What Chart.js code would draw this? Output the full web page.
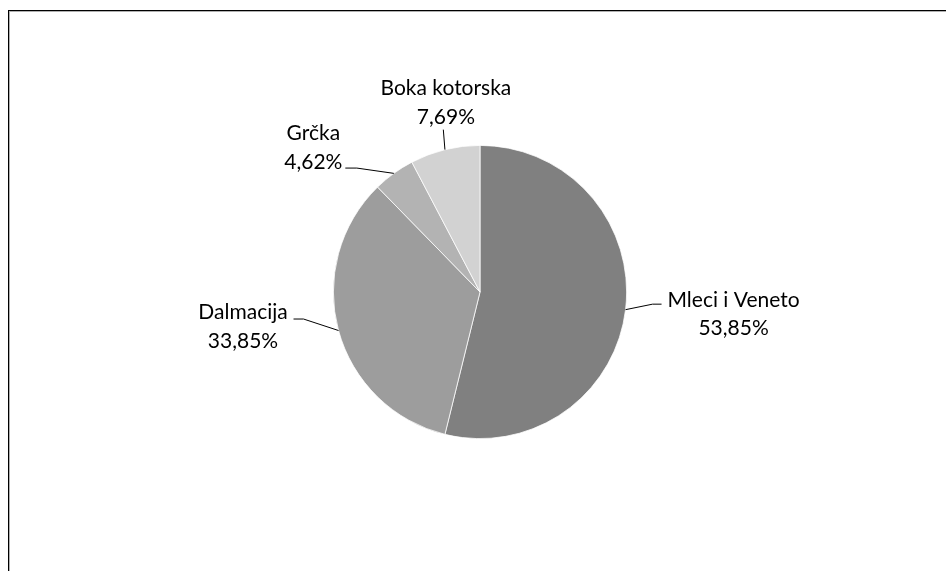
<!DOCTYPE html>
<html>
<head>
<meta charset="utf-8">
<script src="https://cdn.jsdelivr.net/npm/chart.js@4.4.1/dist/chart.umd.min.js"></script>
<style>
  html, body { margin: 0; padding: 0; background: #fff; overflow: hidden; }
  #wrap { position: relative; width: 946px; height: 571px; }
  #frame { position: absolute; left: 8px; top: 10px; width: 1000px; height: 700px;
           border-top: 1px solid #000; border-left: 1px solid #000;
           box-shadow: inset 1px 1px 0 #b0b0b0; pointer-events: none; }
  canvas { position: absolute; left: 0; top: 0; }
</style>
</head>
<body>
<div id="wrap">
  <canvas id="c" width="946" height="571"></canvas>
  <div id="frame"></div>
</div>
<script>
const categories = ['Mleci i Veneto', 'Dalmacija', 'Grčka', 'Boka kotorska'];
const values = [53.85, 33.85, 4.62, 7.69];
const valueLabels = ['53,85%', '33,85%', '4,62%', '7,69%'];
const sliceColors = ['#808080', '#9d9d9d', '#b3b3b3', '#d2d2d2'];

// label layout (offsets from the slice's outer-edge midpoint)
const labelLayout = [
  { text: [108, -3], leader: [[27, -5.5], [36, -5.5]] },
  { text: [-95.5, -11.5], leader: [[-35, -11.5], [-45, -11.5]] },
  { text: [-80.5, -33], leader: [[-37, -5.3], [-48.5, -5.3]] },
  { text: [1, -54.3], leader: [[-1.6, -20]] }
];

const labelPlugin = {
  id: 'pieLabels',
  afterDatasetsDraw(chart, args, opts) {
    const ctx = chart.ctx;
    const meta = chart.getDatasetMeta(0);
    ctx.save();
    meta.data.forEach((arc, i) => {
      const p = arc.getProps(['x', 'y', 'startAngle', 'endAngle', 'outerRadius'], true);
      const mid = (p.startAngle + p.endAngle) / 2;
      const ex = p.x + Math.cos(mid) * p.outerRadius;
      const ey = p.y + Math.sin(mid) * p.outerRadius;
      const lay = opts.layout[i];
      ctx.strokeStyle = '#000';
      ctx.lineWidth = 1;
      ctx.beginPath();
      ctx.moveTo(ex, ey);
      lay.leader.forEach(pt => ctx.lineTo(ex + pt[0], ey + pt[1]));
      ctx.stroke();
      ctx.fillStyle = '#000';
      ctx.font = opts.font;
      ctx.textAlign = 'center';
      ctx.textBaseline = 'alphabetic';
      const tx = ex + lay.text[0];
      const ty = ey + lay.text[1];
      ctx.fillText(chart.data.labels[i], tx, ty);
      ctx.fillText(opts.valueLabels[i], tx, ty + opts.lineHeight);
    });
    ctx.restore();
  }
};

new Chart(document.getElementById('c'), {
  type: 'pie',
  data: {
    labels: categories,
    datasets: [{
      data: values,
      backgroundColor: sliceColors,
      borderColor: '#ffffff',
      borderWidth: 0.75
    }]
  },
  options: {
    responsive: false,
    animation: false,
    devicePixelRatio: 1,
    layout: { padding: { left: 333, right: 319, top: 145, bottom: 132 } },
    plugins: {
      legend: { display: false },
      tooltip: { enabled: false },
      pieLabels: {
        layout: labelLayout,
        valueLabels: valueLabels,
        font: '21px Lato',
        lineHeight: 28.5
      }
    }
  },
  plugins: [labelPlugin]
});
</script>
</body>
</html>
